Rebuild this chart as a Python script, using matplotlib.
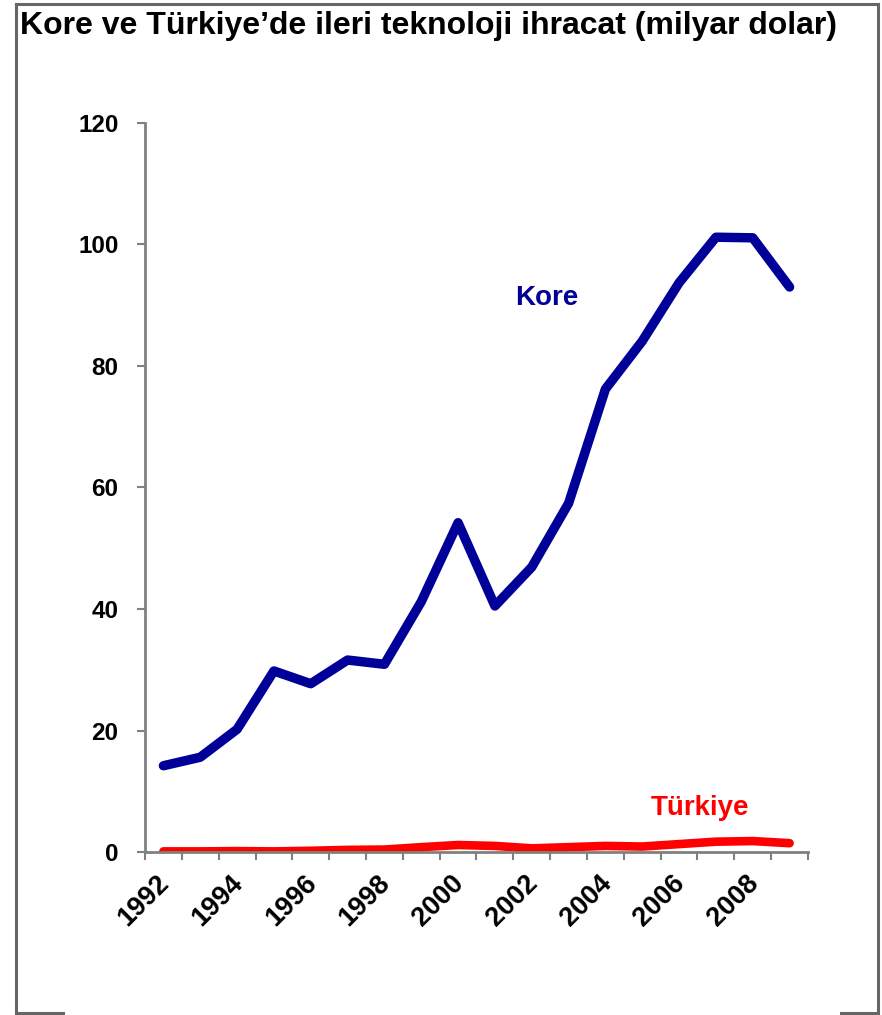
import matplotlib.pyplot as plt
from matplotlib.lines import Line2D
import numpy as np

plt.rcParams['font.family'] = ['Liberation Sans', 'DejaVu Sans']
plt.rcParams['font.weight'] = 'bold'

yillar = list(range(1992, 2010))
kore = [14.2, 15.6, 20.2, 29.8, 27.7, 31.6, 30.9, 41.2, 54.2, 40.5,
        46.9, 57.4, 76.2, 84.1, 93.7, 101.2, 101.1, 93.0]
turkiye = [0.1, 0.1, 0.15, 0.1, 0.2, 0.35, 0.4, 0.8, 1.15, 1.0,
           0.6, 0.8, 1.0, 0.9, 1.3, 1.7, 1.8, 1.45]
etiket_yillar = [1992, 1994, 1996, 1998, 2000, 2002, 2004, 2006, 2008]
yticks = [0, 20, 40, 60, 80, 100, 120]

koyu_mavi = '#000099'
kirmizi = '#ff0000'
gri = '#808080'

fig = plt.figure(figsize=(8.82, 10.15), dpi=100)
ax = fig.add_axes([145 / 882, 1 - 852 / 1015, 663 / 882, 729 / 1015])

x = np.arange(len(yillar)) + 0.5
ax.plot(x, kore, color=koyu_mavi, lw=6.8, solid_capstyle='round', solid_joinstyle='round')
ax.plot(x, turkiye, color=kirmizi, lw=6.2, solid_capstyle='round', solid_joinstyle='round')

ax.set_xlim(0, len(yillar))
ax.set_ylim(0, 120)
ax.set_yticks(yticks)
ax.set_yticklabels([str(v) for v in yticks], fontsize=17.5, fontweight='bold')
ax.set_xticks(np.arange(len(yillar) + 1))
ax.set_xticklabels([])
for y in etiket_yillar:
    i = yillar.index(y)
    ax.text(x[i] + 0.3, -3.0, str(y), rotation=45, ha='right', va='top',
            fontsize=19.5, fontweight='bold', transform=ax.transData)

for s in ['top', 'right']:
    ax.spines[s].set_visible(False)
for s in ['left', 'bottom']:
    ax.spines[s].set_color(gri)
    ax.spines[s].set_linewidth(2)
ax.tick_params(axis='both', color=gri, width=1.5, length=6, direction='out')
ax.tick_params(axis='y', pad=13)

ax.text(10.05, 90.0, 'Kore', color=koyu_mavi, fontsize=20, fontweight='bold')
ax.text(13.74, 6.1, 'Türkiye', color=kirmizi, fontsize=20, fontweight='bold')

fig.text(20 / 882, 1 - 26 / 1015, 'Kore ve Türkiye’de ileri teknoloji ihracat (milyar dolar)',
         fontsize=23, fontweight='bold', va='center', ha='left')

# cerceve
cc = '#666666'
def px(xp, yp):
    return xp / 882, 1 - yp / 1015
for (x0, y0), (x1, y1) in [((16, 4), (878, 4)), ((16, 4), (16, 1013)), ((878, 4), (878, 1013)),
                           ((16, 1013), (63, 1013)), ((841, 1013), (878, 1013))]:
    a, b = px(x0, y0)
    c, d = px(x1, y1)
    fig.add_artist(Line2D([a, c], [b, d], color=cc, lw=2.2, transform=fig.transFigure))

fig.savefig('out.png', dpi=100)
